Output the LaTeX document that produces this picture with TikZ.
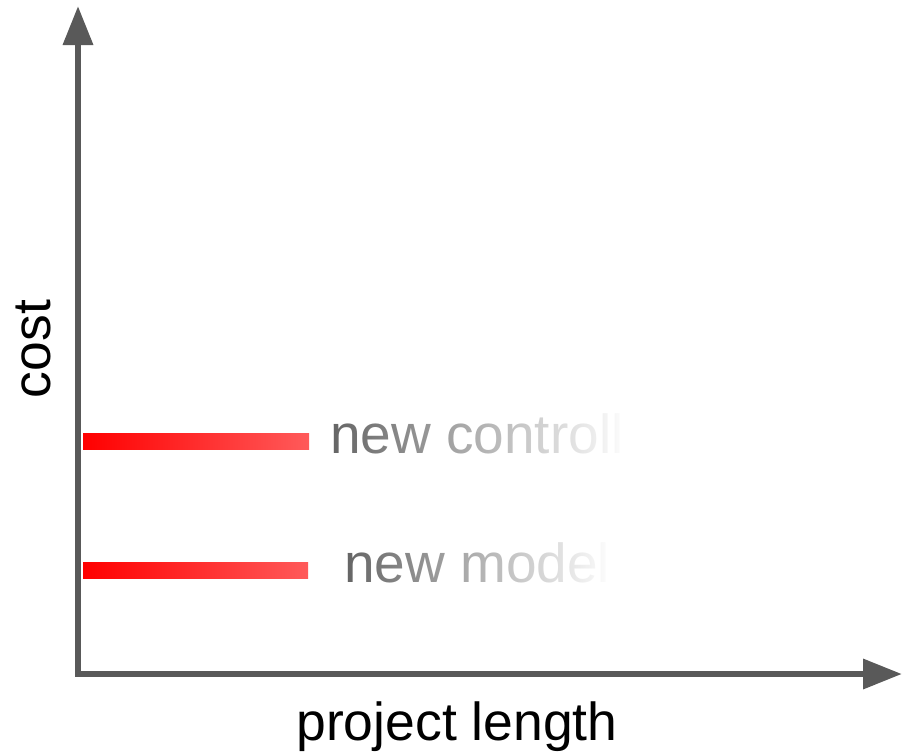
\documentclass[tikz,border=0pt]{standalone}
\usepackage{fontspec}
\setmainfont{Liberation Sans}
\usetikzlibrary{arrows.meta,fadings}

\definecolor{axisgray}{HTML}{595959}
\definecolor{labelgray}{HTML}{666666}
\definecolor{barend}{HTML}{FF5A5A}

% white veil that turns opaque towards the right
\tikzfading[name=veilright, left color=transparent!100, right color=transparent!0]

\tikzset{
  axisline/.style={draw=axisgray, line width=6.5pt, line join=miter,
    {Triangle[length=39pt,width=29pt]}-{Triangle[length=39pt,width=29pt]}},
  bar/.style={left color=red, right color=barend},
  axislabel/.style={font=\fontsize{53.5}{62}\selectfont, text=black, inner sep=0pt},
  optlabel/.style={font=\fontsize{55}{64}\selectfont, text=labelgray, inner sep=0pt, anchor=base west},
}

\begin{document}
\begin{tikzpicture}[x=1pt,y=-1pt]
  \useasboundingbox (0,0) rectangle (913,753);
  \fill[white] (0,0) rectangle (913,753);

  % axes
  \coordinate (ytop) at (78,6);
  \coordinate (O) at (78,674);
  \coordinate (xend) at (902,674);
  \draw[axisline] (ytop) -- (O) -- (xend);

  % axis titles
  \node[axislabel, rotate=90, anchor=base] (ylab) at (50,349) {cost};
  \node[axislabel, anchor=base] (xlab) at (457,740) {project length};

  % cost levels
  \shade[bar] (83,433) rectangle (309,449);
  \shade[bar] (83,562) rectangle (308,578);

  % option labels, fading out to the right
  \node[optlabel] (ctl) at (330,453) {new controll};
  \fill[white, path fading=veilright] (333,395) rectangle (628,475);
  \fill[white] (628,395) rectangle (700,475);

  \node[optlabel] (mdl) at (344,582) {new model};
  \fill[white, path fading=veilright] (347,525) rectangle (612,605);
\end{tikzpicture}
\end{document}
